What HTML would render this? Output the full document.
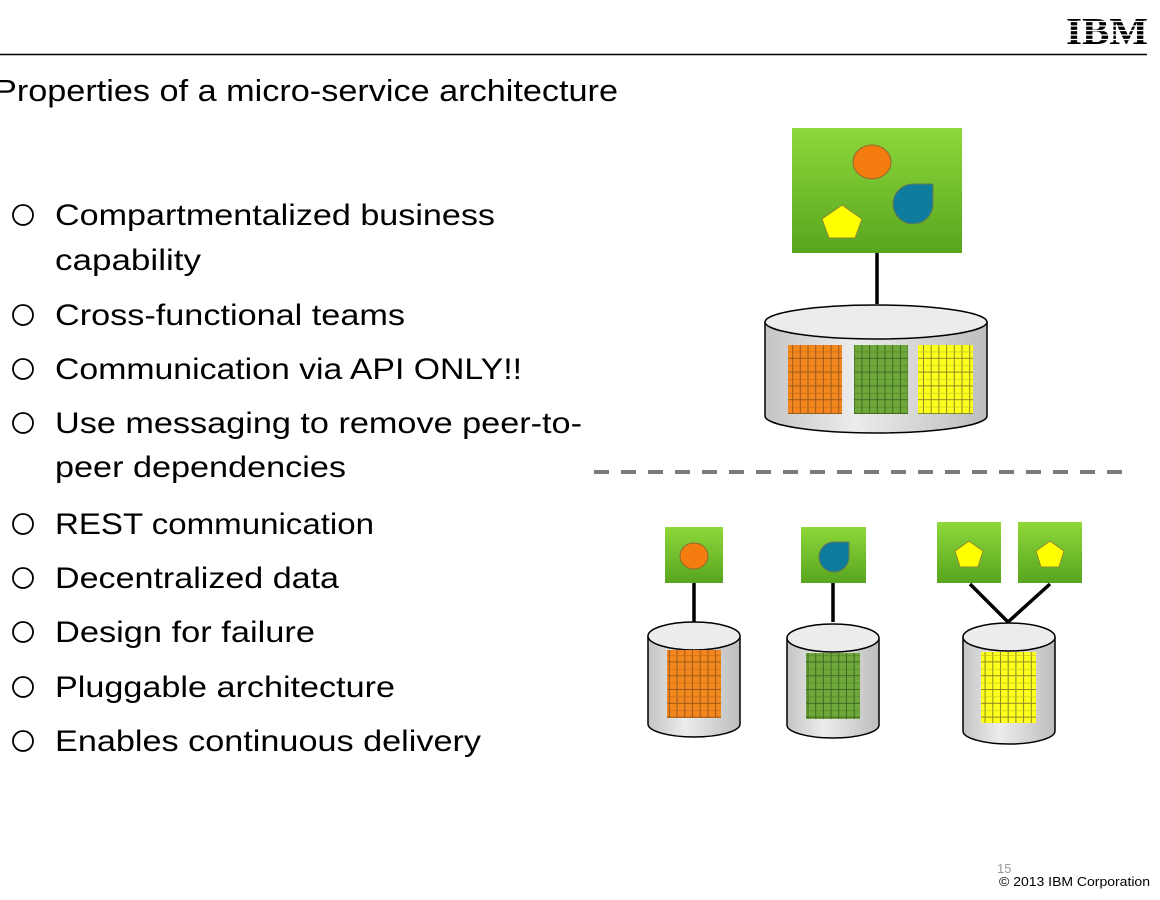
<!DOCTYPE html>
<html><head><meta charset="utf-8"><style>
html,body{margin:0;padding:0;background:#fff;width:1160px;height:900px;overflow:hidden}
svg{display:block}
text{font-family:"Liberation Sans",sans-serif;fill:#000}
</style></head><body>
<svg width="1160" height="900" viewBox="0 0 1160 900" xmlns="http://www.w3.org/2000/svg">
<defs>
<linearGradient id="g" x1="0" y1="0" x2="0" y2="1"><stop offset="0" stop-color="#8ed83a"/><stop offset="1" stop-color="#58a51f"/></linearGradient>
<linearGradient id="cyl" x1="0" y1="0" x2="1" y2="0"><stop offset="0" stop-color="#c4c4c4"/><stop offset="0.4" stop-color="#ececec"/><stop offset="1" stop-color="#bdbdbd"/></linearGradient>
<pattern id="po" width="7.7" height="13.8" patternUnits="userSpaceOnUse"><rect width="8" height="14" fill="#f4861e"/><path d="M7.2 0V14M0 13.3H8" stroke="#9a5a1a" stroke-width="1"/><path d="M0 6.9H8" stroke="#c06a1a" stroke-width="0.6"/></pattern>
<pattern id="pg" width="7.7" height="13.8" patternUnits="userSpaceOnUse"><rect width="8" height="14" fill="#6fa83a"/><path d="M7.2 0V14M0 13.3H8" stroke="#3e6a22" stroke-width="1"/><path d="M0 6.9H8" stroke="#527f2c" stroke-width="0.6"/></pattern>
<pattern id="py" width="7.7" height="13.8" patternUnits="userSpaceOnUse"><rect width="8" height="14" fill="#ffff1e"/><path d="M7.2 0V14M0 13.3H8" stroke="#8a8a20" stroke-width="1"/><path d="M0 6.9H8" stroke="#c0c020" stroke-width="0.6"/></pattern>
</defs>

<line x1="0" y1="54.5" x2="1147" y2="54.5" stroke="#000" stroke-width="1.5"/>
<text x="1066" y="44" font-size="38" font-weight="bold" textLength="82" lengthAdjust="spacingAndGlyphs" style="font-family:'Liberation Serif',serif">IBM</text>
<g stroke="#fff" stroke-width="1.3">
<line x1="1064" y1="17" x2="1150" y2="17"/><line x1="1064" y1="21.5" x2="1150" y2="21.5"/><line x1="1064" y1="26" x2="1150" y2="26"/><line x1="1064" y1="30.5" x2="1150" y2="30.5"/><line x1="1064" y1="35" x2="1150" y2="35"/><line x1="1064" y1="39.5" x2="1150" y2="39.5"/>
</g>

<text x="-6" y="101" font-size="31" textLength="624" lengthAdjust="spacingAndGlyphs">Properties of a micro-service architecture</text>

<g fill="none" stroke="#000" stroke-width="1.8">
<circle cx="23" cy="215" r="10"/><circle cx="23" cy="315" r="10"/><circle cx="23" cy="369" r="10"/><circle cx="23" cy="423" r="10"/><circle cx="23" cy="524" r="10"/><circle cx="23" cy="578" r="10"/><circle cx="23" cy="632" r="10"/><circle cx="23" cy="687" r="10"/><circle cx="23" cy="741" r="10"/>
</g>
<g font-size="30">
<text x="55" y="225" textLength="440" lengthAdjust="spacingAndGlyphs">Compartmentalized business</text>
<text x="55" y="270" textLength="146" lengthAdjust="spacingAndGlyphs">capability</text>
<text x="55" y="325" textLength="350" lengthAdjust="spacingAndGlyphs">Cross-functional teams</text>
<text x="55" y="379" textLength="467" lengthAdjust="spacingAndGlyphs">Communication via API ONLY!!</text>
<text x="55" y="433" textLength="527" lengthAdjust="spacingAndGlyphs">Use messaging to remove peer-to-</text>
<text x="55" y="477" textLength="291" lengthAdjust="spacingAndGlyphs">peer dependencies</text>
<text x="55" y="534" textLength="319" lengthAdjust="spacingAndGlyphs">REST communication</text>
<text x="55" y="588" textLength="284" lengthAdjust="spacingAndGlyphs">Decentralized data</text>
<text x="55" y="642" textLength="260" lengthAdjust="spacingAndGlyphs">Design for failure</text>
<text x="55" y="697" textLength="340" lengthAdjust="spacingAndGlyphs">Pluggable architecture</text>
<text x="55" y="751" textLength="426" lengthAdjust="spacingAndGlyphs">Enables continuous delivery</text>
</g>

<rect x="792" y="128" width="170" height="125" fill="url(#g)"/>
<ellipse cx="872" cy="162" rx="19" ry="17" fill="#f57c0f" stroke="#8a6a30" stroke-width="1"/>
<path d="M933 184 V204 A20 20 0 1 1 913 184 Z" fill="#0e7c9c" stroke="#6a7a50" stroke-width="1"/>
<polygon points="842,205 862,219 855,238 829,238 822,219" fill="#ffff00" stroke="#8a8a30" stroke-width="1"/>
<line x1="877" y1="253" x2="877" y2="304" stroke="#000" stroke-width="3.5"/>
<path d="M765 322 V416 A111 17 0 0 0 987 416 V322" fill="url(#cyl)" stroke="#000" stroke-width="1.5"/>
<ellipse cx="876" cy="322" rx="111" ry="17" fill="#ececec" stroke="#000" stroke-width="1.5"/>
<rect x="788" y="345" width="54" height="69" fill="url(#po)"/>
<rect x="854" y="345" width="54" height="69" fill="url(#pg)"/>
<rect x="918" y="345" width="55" height="69" fill="url(#py)"/>

<line x1="594" y1="472" x2="1124" y2="472" stroke="#7a7a7a" stroke-width="4" stroke-dasharray="15 12"/>

<rect x="665" y="527" width="58" height="56" fill="url(#g)"/>
<ellipse cx="694" cy="556" rx="14" ry="13" fill="#f57c0f" stroke="#8a6a30" stroke-width="1"/>
<rect x="801" y="527" width="65" height="56" fill="url(#g)"/>
<path d="M849 542 V557 A15 15 0 1 1 834 542 Z" fill="#0e7c9c" stroke="#6a7a50" stroke-width="1"/>
<rect x="937" y="522" width="64" height="61" fill="url(#g)"/>
<polygon points="969,541 983,551 978,567 960,567 955,551" fill="#ffff00" stroke="#8a8a30" stroke-width="1"/>
<rect x="1018" y="522" width="64" height="61" fill="url(#g)"/>
<polygon points="1050,541 1064,551 1059,567 1041,567 1036,551" fill="#ffff00" stroke="#8a8a30" stroke-width="1"/>
<g stroke="#000" stroke-width="3.5" fill="none">
<line x1="694" y1="583" x2="694" y2="622"/>
<line x1="833" y1="583" x2="833" y2="622"/>
<polyline points="970,584 1008,622 1050,584"/>
</g>
<g stroke="#000" stroke-width="1.5">
<path d="M648 636 V724 A46 13 0 0 0 740 724 V636" fill="url(#cyl)"/>
<ellipse cx="694" cy="636" rx="46" ry="14" fill="#ececec"/>
<path d="M787 638 V725 A46 13 0 0 0 879 725 V638" fill="url(#cyl)"/>
<ellipse cx="833" cy="638" rx="46" ry="14" fill="#ececec"/>
<path d="M963 637 V731 A46 13 0 0 0 1055 731 V637" fill="url(#cyl)"/>
<ellipse cx="1009" cy="637" rx="46" ry="14" fill="#ececec"/>
</g>
<rect x="667" y="650" width="54" height="68" fill="url(#po)"/>
<rect x="806" y="653" width="54" height="66" fill="url(#pg)"/>
<rect x="981" y="652" width="55" height="71" fill="url(#py)"/>

<text x="997" y="873" font-size="13" style="fill:#999">15</text>
<text x="999" y="886" font-size="12.5" textLength="151" lengthAdjust="spacingAndGlyphs">© 2013 IBM Corporation</text>
</svg>
</body></html>
